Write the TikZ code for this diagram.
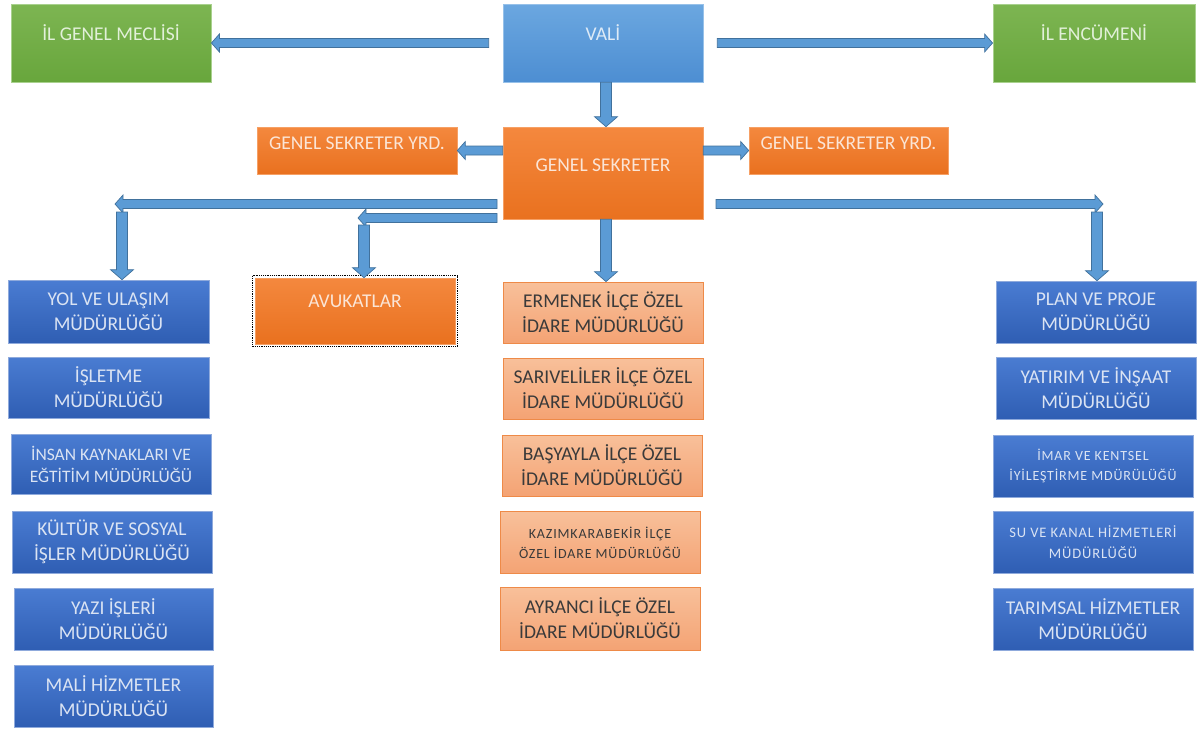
\documentclass[tikz,border=0pt]{standalone}
\usepackage{fontspec}
\setmainfont{Carlito}
\usetikzlibrary{calc}
\definecolor{arrfill}{HTML}{5B9BD5}
\definecolor{arrline}{HTML}{41719C}
\definecolor{grtop}{HTML}{7DB552}
\definecolor{grbot}{HTML}{68A63C}
\definecolor{grline}{HTML}{A9D18E}
\definecolor{grtext}{HTML}{E2F0D9}
\definecolor{vtop}{HTML}{6BA7E0}
\definecolor{vbot}{HTML}{4D8ED2}
\definecolor{vtext}{HTML}{DEEBF7}
\definecolor{ortop}{HTML}{F4883E}
\definecolor{orbot}{HTML}{E9711F}
\definecolor{ortext}{HTML}{FBE5D6}
\definecolor{bltop}{HTML}{4A7CD2}
\definecolor{blbot}{HTML}{2F5EB3}
\definecolor{blline}{HTML}{8FAADC}
\definecolor{bltext}{HTML}{DAE3F3}
\definecolor{satop}{HTML}{F8C09A}
\definecolor{sabot}{HTML}{F4A374}
\definecolor{saline}{HTML}{EE8A48}
\definecolor{satext}{HTML}{3A3A3A}
\newcommand\blk[5]{%
 \draw[arr] let \p1=(#1), \p2=(#2), \p3=($(\p2)!#5!(\p1)$) in
  ($(\p1)!#3!90:(\p2)$) -- ($(\p3)!#3!90:(\p2)$) -- ($(\p3)!#4!90:(\p2)$) -- (\p2)
  -- ($(\p3)!#4!-90:(\p2)$) -- ($(\p3)!#3!-90:(\p2)$) -- ($(\p1)!#3!-90:(\p2)$) -- cycle;}
\newcommand\harr[2]{\blk{#1}{#2}{4.5pt}{9pt}{8pt}}
\newcommand\varr[2]{\blk{#1}{#2}{5.5pt}{11.5pt}{10pt}}
\newfontfamily\spaced[LetterSpace=6]{Carlito}
\begin{document}
\begin{tikzpicture}[x=1pt,y=-1pt,
  arr/.style={fill=arrfill,draw=arrline,line width=0.7pt},
  bx/.style={rectangle,inner sep=2pt,align=center,font=\fontsize{19.5}{25}\selectfont,minimum width=200pt},
  green/.style={bx,top color=grtop,bottom color=grbot,draw=grline,line width=0.8pt,text=grtext},
  vblue/.style={bx,top color=vtop,bottom color=vbot,draw=vtop!70!white,line width=0.6pt,text=vtext},
  orange/.style={bx,top color=ortop,bottom color=orbot,draw=ortop!80!white,line width=0.6pt,text=ortext},
  dblue/.style={bx,top color=bltop,bottom color=blbot,draw=blline,line width=0.6pt,text=bltext},
  salmon/.style={bx,top color=satop,bottom color=sabot,draw=saline,line width=0.8pt,text=satext},
  up/.style={text depth=#1}
]
\useasboundingbox (0,0) rectangle (1203,729);
% top row
\node[green,minimum width=200pt,minimum height=78pt,up=20pt] (gm) at (111,43) {İL GENEL MECLİSİ};
\node[vblue,minimum width=200pt,minimum height=78pt,up=20pt] (vali) at (603,43) {VALİ};
\node[green,minimum width=202pt,minimum height=78pt,up=20pt] (enc) at (1094,43) {İL ENCÜMENİ};
% second row
\node[orange,minimum width=200pt,minimum height=92pt,up=15pt] (gs) at (603,173) {GENEL SEKRETER};
\node[orange,minimum width=200pt,minimum height=47pt,up=14pt] (gsyl) at (357,150.5) {GENEL SEKRETER YRD.};
\node[orange,minimum width=199pt,minimum height=47pt,up=14pt] (gsyr) at (848.5,150.5) {GENEL SEKRETER YRD.};
% left column
\node[dblue,minimum width=201pt,minimum height=63pt] (yol) at (108.5,311.5) {YOL VE ULAŞIM\\MÜDÜRLÜĞÜ};
\node[dblue,minimum width=201pt,minimum height=61pt] (isl) at (108.5,387.5) {İŞLETME\\MÜDÜRLÜĞÜ};
\node[dblue,minimum width=200pt,minimum height=60pt,font=\fontsize{17.5}{22}\selectfont] (ik) at (111,464) {İNSAN KAYNAKLARI VE\\EĞTİTİM MÜDÜRLÜĞÜ};
\node[dblue,minimum width=200pt,minimum height=62pt] (kul) at (112,542) {KÜLTÜR VE SOSYAL\\İŞLER MÜDÜRLÜĞÜ};
\node[dblue,minimum width=199pt,minimum height=62pt] (yazi) at (113.5,619) {YAZI İŞLERİ\\MÜDÜRLÜĞÜ};
\node[dblue,minimum width=199pt,minimum height=62pt] (mali) at (113.5,696) {MALİ HİZMETLER\\MÜDÜRLÜĞÜ};
% avukatlar
\node[orange,minimum width=200pt,minimum height=66pt,up=20pt] (avu) at (355,311) {AVUKATLAR};
\draw[black,densely dotted,line width=1.2pt] ($(avu.north west)+(-2,-2)$) rectangle ($(avu.south east)+(2,2)$);
% middle column
\node[salmon,minimum width=200pt,minimum height=61pt] (erm) at (603,312.5) {ERMENEK İLÇE ÖZEL\\İDARE MÜDÜRLÜĞÜ};
\node[salmon,minimum width=200pt,minimum height=61pt] (sar) at (603,388.5) {SARIVELİLER İLÇE ÖZEL\\İDARE MÜDÜRLÜĞÜ};
\node[salmon,minimum width=200pt,minimum height=61pt] (bas) at (602,465.5) {BAŞYAYLA İLÇE ÖZEL\\İDARE MÜDÜRLÜĞÜ};
\node[salmon,minimum width=200pt,minimum height=62pt,font=\spaced\fontsize{14}{20}\selectfont] (kaz) at (600,542.5) {KAZIMKARABEKİR İLÇE\\ÖZEL İDARE MÜDÜRLÜĞÜ};
\node[salmon,minimum width=200pt,minimum height=63pt] (ayr) at (600,618.5) {AYRANCI İLÇE ÖZEL\\İDARE MÜDÜRLÜĞÜ};
% right column
\node[dblue,minimum width=200pt,minimum height=62pt] (plan) at (1096,312) {PLAN VE PROJE\\MÜDÜRLÜĞÜ};
\node[dblue,minimum width=200pt,minimum height=62pt] (yat) at (1096,388) {YATIRIM VE İNŞAAT\\MÜDÜRLÜĞÜ};
\node[dblue,minimum width=200pt,minimum height=62pt,font=\spaced\fontsize{14}{20}\selectfont] (imar) at (1093,466) {İMAR VE KENTSEL\\İYİLEŞTİRME MDÜRÜLÜĞÜ};
\node[dblue,minimum width=200pt,minimum height=62pt,font=\spaced\fontsize{14.5}{21}\selectfont] (su) at (1093,542) {SU VE KANAL HİZMETLERİ\\MÜDÜRLÜĞÜ};
\node[dblue,minimum width=200pt,minimum height=62pt] (tar) at (1093,619) {TARIMSAL HİZMETLER\\MÜDÜRLÜĞÜ};
% arrow end coordinates
\coordinate (vls) at ($(vali.west)+(-14,0)$);
\coordinate (vrs) at ($(vali.east)+(14,0)$);
\coordinate (vds) at ($(vali.south)+(3,0)$);
\coordinate (vde) at ($(gs.north)+(3,0)$);
\coordinate (gls) at (gs.west |- gsyl.east);
\coordinate (grs) at (gs.east |- gsyr.west);
\coordinate (gds) at ($(gs.south)+(3,0)$);
\coordinate (gde) at ($(erm.north)+(3,0)$);
\coordinate (l1s) at (497,204);
\coordinate (l1e) at (115,204);
\coordinate (l1d) at (122,212);
\coordinate (l2s) at (497,218);
\coordinate (l2e) at (358,218);
\coordinate (l2d) at (364,225);
\coordinate (r1s) at (716,204);
\coordinate (r1e) at (1103,204);
\coordinate (r1d) at (1097,212);
% arrows
\harr{vls}{gm.east}
\harr{vrs}{enc.west}
\varr{vds}{vde}
\harr{gls}{gsyl.east}
\harr{grs}{gsyr.west}
\harr{l1s}{l1e}
\varr{l1d}{yol.north -| l1d}
\harr{l2s}{l2e}
\varr{l2d}{avu.north -| l2d}
\harr{r1s}{r1e}
\varr{r1d}{plan.north -| r1d}
\varr{gds}{gde}
\end{tikzpicture}
\end{document}
